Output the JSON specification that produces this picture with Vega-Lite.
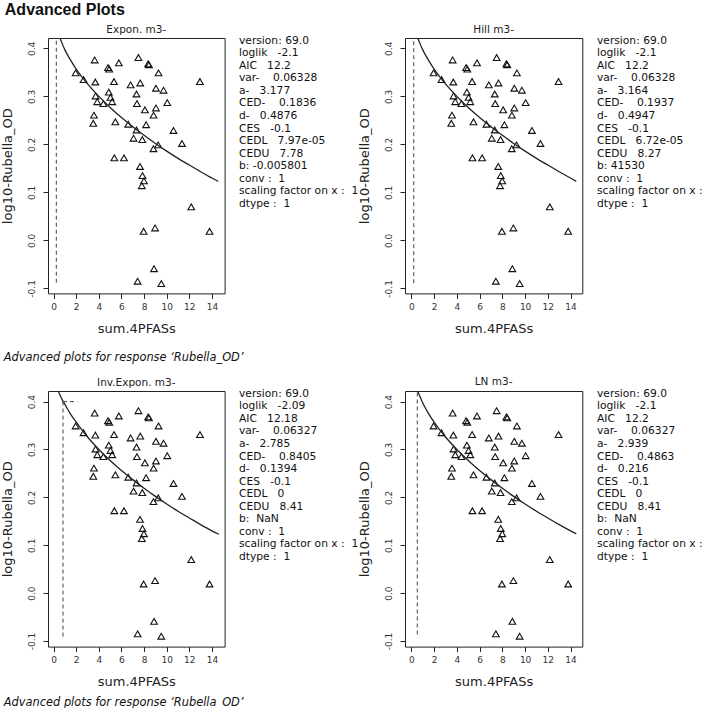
{
  "$schema": "https://vega.github.io/schema/vega-lite/v6.json",
  "padding": {"left": 0, "top": 2, "right": 0, "bottom": 0},
  "background": "white",
  "title": {"text": "Advanced Plots", "anchor": "start", "frame": "bounds", "font": "Liberation Sans", "fontSize": 16, "fontWeight": "bold", "color": "#111", "dx": 4, "offset": 6},
  "datasets": {
    "pts": [
      {"x":1.95,"y":0.349},{"x":2.65,"y":0.335},{"x":3.63,"y":0.376},{"x":3.69,"y":0.330},{"x":3.71,"y":0.301},
      {"x":3.86,"y":0.289},{"x":3.57,"y":0.261},{"x":3.51,"y":0.244},{"x":4.40,"y":0.285},{"x":4.81,"y":0.360},
      {"x":4.92,"y":0.357},{"x":4.88,"y":0.309},{"x":5.03,"y":0.298},{"x":5.18,"y":0.289},{"x":5.34,"y":0.331},
      {"x":5.77,"y":0.370},{"x":5.46,"y":0.247},{"x":5.37,"y":0.172},{"x":6.22,"y":0.172},{"x":6.60,"y":0.242},
      {"x":6.81,"y":0.324},{"x":7.50,"y":0.381},{"x":7.66,"y":0.328},{"x":7.33,"y":0.305},{"x":7.37,"y":0.285},
      {"x":7.33,"y":0.230},{"x":7.07,"y":0.213},{"x":7.84,"y":0.210},{"x":8.07,"y":0.272},{"x":8.18,"y":0.241},
      {"x":8.36,"y":0.368},{"x":8.43,"y":0.366},{"x":9.28,"y":0.349},{"x":9.05,"y":0.317},{"x":9.72,"y":0.313},
      {"x":9.05,"y":0.276},{"x":8.84,"y":0.261},{"x":10.05,"y":0.287},{"x":9.25,"y":0.199},{"x":8.83,"y":0.191},
      {"x":10.60,"y":0.229},{"x":11.35,"y":0.202},{"x":12.94,"y":0.331},{"x":7.64,"y":0.154},{"x":7.86,"y":0.135},
      {"x":7.99,"y":0.124},{"x":7.80,"y":0.114},{"x":12.17,"y":0.070},{"x":7.96,"y":0.019},{"x":8.97,"y":0.026},
      {"x":13.79,"y":0.019},{"x":8.88,"y":-0.059},{"x":7.43,"y":-0.085},{"x":9.52,"y":-0.090}
    ],
    "curves": [
      {"p":"A","x":0.3,"y":0.4415},{"p":"A","x":0.5,"y":0.426},{"p":"A","x":0.75,"y":0.4105},{"p":"A","x":1,"y":0.397},{"p":"A","x":1.5,"y":0.3755},{"p":"A","x":2,"y":0.357},{"p":"A","x":2.5,"y":0.3407},{"p":"A","x":3,"y":0.326},{"p":"A","x":4,"y":0.300},{"p":"A","x":5,"y":0.277},{"p":"A","x":6,"y":0.256},{"p":"A","x":7,"y":0.237},{"p":"A","x":8,"y":0.219},{"p":"A","x":9,"y":0.202},{"p":"A","x":10,"y":0.186},{"p":"A","x":11,"y":0.171},{"p":"A","x":12,"y":0.157},{"p":"A","x":13,"y":0.143},{"p":"A","x":14,"y":0.130},{"p":"A","x":14.55,"y":0.123},
      {"p":"B","x":0.3,"y":0.4415},{"p":"B","x":0.5,"y":0.426},{"p":"B","x":0.75,"y":0.4105},{"p":"B","x":1,"y":0.397},{"p":"B","x":1.5,"y":0.3755},{"p":"B","x":2,"y":0.357},{"p":"B","x":2.5,"y":0.3407},{"p":"B","x":3,"y":0.326},{"p":"B","x":4,"y":0.300},{"p":"B","x":5,"y":0.277},{"p":"B","x":6,"y":0.256},{"p":"B","x":7,"y":0.237},{"p":"B","x":8,"y":0.219},{"p":"B","x":9,"y":0.202},{"p":"B","x":10,"y":0.186},{"p":"B","x":11,"y":0.171},{"p":"B","x":12,"y":0.157},{"p":"B","x":13,"y":0.143},{"p":"B","x":14,"y":0.130},{"p":"B","x":14.5,"y":0.123},
      {"p":"C","x":0.3,"y":0.45},{"p":"C","x":0.44,"y":0.422},{"p":"C","x":0.6,"y":0.412},{"p":"C","x":0.8,"y":0.402},{"p":"C","x":1,"y":0.394},{"p":"C","x":1.5,"y":0.374},{"p":"C","x":2,"y":0.357},{"p":"C","x":2.5,"y":0.3407},{"p":"C","x":3,"y":0.326},{"p":"C","x":4,"y":0.300},{"p":"C","x":5,"y":0.277},{"p":"C","x":6,"y":0.256},{"p":"C","x":7,"y":0.237},{"p":"C","x":8,"y":0.219},{"p":"C","x":9,"y":0.202},{"p":"C","x":10,"y":0.186},{"p":"C","x":11,"y":0.171},{"p":"C","x":12,"y":0.157},{"p":"C","x":13,"y":0.143},{"p":"C","x":14,"y":0.130},{"p":"C","x":14.6,"y":0.123},
      {"p":"D","x":0.3,"y":0.4415},{"p":"D","x":0.5,"y":0.426},{"p":"D","x":0.75,"y":0.4105},{"p":"D","x":1,"y":0.397},{"p":"D","x":1.5,"y":0.3755},{"p":"D","x":2,"y":0.357},{"p":"D","x":2.5,"y":0.3407},{"p":"D","x":3,"y":0.326},{"p":"D","x":4,"y":0.300},{"p":"D","x":5,"y":0.277},{"p":"D","x":6,"y":0.256},{"p":"D","x":7,"y":0.237},{"p":"D","x":8,"y":0.219},{"p":"D","x":9,"y":0.202},{"p":"D","x":10,"y":0.186},{"p":"D","x":11,"y":0.171},{"p":"D","x":12,"y":0.157},{"p":"D","x":13,"y":0.143},{"p":"D","x":14,"y":0.130},{"p":"D","x":14.5,"y":0.124}
    ],
    "ced": [
      {"p":"A","seg":1,"k":1,"x":0.24,"y":0.416},{"p":"A","seg":1,"k":2,"x":0.24,"y":-0.092},
      {"p":"B","seg":1,"k":1,"x":0.21,"y":0.415},{"p":"B","seg":1,"k":2,"x":0.21,"y":-0.092},
      {"p":"C","seg":1,"k":1,"x":0.83,"y":0.400},{"p":"C","seg":1,"k":2,"x":0.83,"y":-0.093},
      {"p":"C","seg":2,"k":1,"x":0.83,"y":0.400},{"p":"C","seg":2,"k":2,"x":2.1,"y":0.400},
      {"p":"D","seg":1,"k":1,"x":0.52,"y":0.419},{"p":"D","seg":1,"k":2,"x":0.52,"y":-0.093}
    ],
    "stats": [
      {"p":"A","line":0,"text":"version: 69.0"},{"p":"A","line":1,"text":"loglik\u00a0\u00a0\u00a0-2.1"},{"p":"A","line":2,"text":"AIC\u00a0\u00a0\u00a012.2"},{"p":"A","line":3,"text":"var-\u00a0\u00a0\u00a0\u00a00.06328"},{"p":"A","line":4,"text":"a-\u00a0\u00a0\u00a03.177"},{"p":"A","line":5,"text":"CED-\u00a0\u00a0\u00a0\u00a00.1836"},{"p":"A","line":6,"text":"d-\u00a0\u00a0\u00a00.4876"},{"p":"A","line":7,"text":"CES\u00a0\u00a0\u00a0-0.1"},{"p":"A","line":8,"text":"CEDL\u00a0\u00a0\u00a07.97e-05"},{"p":"A","line":9,"text":"CEDU\u00a0\u00a0\u00a07.78"},{"p":"A","line":10,"text":"b:\u00a0-0.005801"},{"p":"A","line":11,"text":"conv :\u00a0\u00a01"},{"p":"A","line":12,"text":"scaling factor on x :\u00a0\u00a01"},{"p":"A","line":13,"text":"dtype :\u00a0\u00a01"},
      {"p":"B","line":0,"text":"version: 69.0"},{"p":"B","line":1,"text":"loglik\u00a0\u00a0\u00a0-2.1"},{"p":"B","line":2,"text":"AIC\u00a0\u00a0\u00a012.2"},{"p":"B","line":3,"text":"var-\u00a0\u00a0\u00a0\u00a00.06328"},{"p":"B","line":4,"text":"a-\u00a0\u00a0\u00a03.164"},{"p":"B","line":5,"text":"CED-\u00a0\u00a0\u00a0\u00a00.1937"},{"p":"B","line":6,"text":"d-\u00a0\u00a0\u00a00.4947"},{"p":"B","line":7,"text":"CES\u00a0\u00a0\u00a0-0.1"},{"p":"B","line":8,"text":"CEDL\u00a0\u00a0\u00a06.72e-05"},{"p":"B","line":9,"text":"CEDU\u00a0\u00a0\u00a08.27"},{"p":"B","line":10,"text":"b:\u00a041530"},{"p":"B","line":11,"text":"conv :\u00a0\u00a01"},{"p":"B","line":12,"text":"scaling factor on x :\u00a0\u00a01"},{"p":"B","line":13,"text":"dtype :\u00a0\u00a01"},
      {"p":"C","line":0,"text":"version: 69.0"},{"p":"C","line":1,"text":"loglik\u00a0\u00a0\u00a0-2.09"},{"p":"C","line":2,"text":"AIC\u00a0\u00a0\u00a012.18"},{"p":"C","line":3,"text":"var-\u00a0\u00a0\u00a0\u00a00.06327"},{"p":"C","line":4,"text":"a-\u00a0\u00a0\u00a02.785"},{"p":"C","line":5,"text":"CED-\u00a0\u00a0\u00a0\u00a00.8405"},{"p":"C","line":6,"text":"d-\u00a0\u00a0\u00a00.1394"},{"p":"C","line":7,"text":"CES\u00a0\u00a0\u00a0-0.1"},{"p":"C","line":8,"text":"CEDL\u00a0\u00a0\u00a00"},{"p":"C","line":9,"text":"CEDU\u00a0\u00a0\u00a08.41"},{"p":"C","line":10,"text":"b:\u00a0\u00a0NaN"},{"p":"C","line":11,"text":"conv :\u00a0\u00a01"},{"p":"C","line":12,"text":"scaling factor on x :\u00a0\u00a01"},{"p":"C","line":13,"text":"dtype :\u00a0\u00a01"},
      {"p":"D","line":0,"text":"version: 69.0"},{"p":"D","line":1,"text":"loglik\u00a0\u00a0\u00a0-2.1"},{"p":"D","line":2,"text":"AIC\u00a0\u00a0\u00a012.2"},{"p":"D","line":3,"text":"var-\u00a0\u00a0\u00a0\u00a00.06327"},{"p":"D","line":4,"text":"a-\u00a0\u00a0\u00a02.939"},{"p":"D","line":5,"text":"CED-\u00a0\u00a0\u00a0\u00a00.4863"},{"p":"D","line":6,"text":"d-\u00a0\u00a0\u00a00.216"},{"p":"D","line":7,"text":"CES\u00a0\u00a0\u00a0-0.1"},{"p":"D","line":8,"text":"CEDL\u00a0\u00a0\u00a00"},{"p":"D","line":9,"text":"CEDU\u00a0\u00a0\u00a08.41"},{"p":"D","line":10,"text":"b:\u00a0\u00a0NaN"},{"p":"D","line":11,"text":"conv :\u00a0\u00a01"},{"p":"D","line":12,"text":"scaling factor on x :\u00a0\u00a01"},{"p":"D","line":13,"text":"dtype :\u00a0\u00a01"}
    ]
  },
  "vconcat": [
    {
      "title": {"text": "Advanced plots for response ‘Rubella_OD’", "orient": "bottom", "anchor": "start", "frame": "bounds", "font": "DejaVu Sans", "fontSize": 11.4, "fontStyle": "italic", "fontWeight": "normal", "color": "#111", "offset": 16, "dx": 3},
      "bounds": "flush",
      "spacing": 14,
      "hconcat": [
        {
          "width": 176.6, "height": 255.4,
          "view": {"stroke": "#222", "strokeWidth": 1},
          "title": {"text": "Expon. m3-", "font": "DejaVu Sans", "fontSize": 10.5, "fontWeight": "normal", "color": "#222", "offset": 3, "anchor": "middle"},
          "layer": [
            {"data": {"name": "pts"}, "mark": {"type": "point", "shape": "triangle-up", "filled": false, "size": 45, "stroke": "#111", "strokeWidth": 1.1, "opacity": 1},
             "encoding": {
               "x": {"field": "x", "type": "quantitative", "title": "sum.4PFASs", "scale": {"domain": [-0.495, 15.12], "nice": false, "zero": false}, "axis": {"values": [0,2,4,6,8,10,12,14], "tickCount": 20, "labelOverlap": false}},
               "y": {"field": "y", "type": "quantitative", "title": "log10-Rubella_OD", "scale": {"domain": [-0.1104, 0.4217], "nice": false, "zero": false}, "axis": {"values": [-0.1,0,0.1,0.2,0.3,0.4], "tickCount": 20, "labelOverlap": false, "labelExpr": "datum.value < 0 ? '-' + format(-datum.value, '.1f') : format(datum.value, '.1f')"}}}},
            {"data": {"name": "curves"}, "transform": [{"filter": "datum.p === 'A'"}], "mark": {"type": "line", "clip": true, "color": "#222", "strokeWidth": 1.3, "interpolate": "monotone"},
             "encoding": {"x": {"field": "x", "type": "quantitative", "title": "sum.4PFASs"}, "y": {"field": "y", "type": "quantitative", "title": "log10-Rubella_OD"}}},
            {"data": {"name": "ced"}, "transform": [{"filter": "datum.p === 'A'"}], "mark": {"type": "line", "strokeDash": [4, 3], "color": "#444", "strokeWidth": 1},
             "encoding": {"x": {"field": "x", "type": "quantitative", "title": "sum.4PFASs"}, "y": {"field": "y", "type": "quantitative", "title": "log10-Rubella_OD"}, "detail": {"field": "seg"}, "order": {"field": "k"}}}
          ]
        },
        {
          "width": 151.4, "height": 255.4,
          "data": {"name": "stats"}, "transform": [{"filter": "datum.p === 'A'"}],
          "mark": {"type": "text", "align": "left", "baseline": "middle", "font": "DejaVu Sans", "fontSize": 10.7, "color": "#111"},
          "encoding": {"x": {"value": 0}, "y": {"field": "line", "type": "quantitative", "scale": {"domain": [-0.215, 20.13], "reverse": true, "nice": false, "zero": false}, "axis": null}, "text": {"field": "text"}}
        },
        {
          "width": 177.3, "height": 255.4,
          "view": {"stroke": "#222", "strokeWidth": 1},
          "title": {"text": "Hill m3-", "font": "DejaVu Sans", "fontSize": 10.5, "fontWeight": "normal", "color": "#222", "offset": 3, "anchor": "middle"},
          "layer": [
            {"data": {"name": "pts"}, "mark": {"type": "point", "shape": "triangle-up", "filled": false, "size": 45, "stroke": "#111", "strokeWidth": 1.1, "opacity": 1},
             "encoding": {
               "x": {"field": "x", "type": "quantitative", "title": "sum.4PFASs", "scale": {"domain": [-0.56, 15.03], "nice": false, "zero": false}, "axis": {"values": [0,2,4,6,8,10,12,14], "tickCount": 20, "labelOverlap": false}},
               "y": {"field": "y", "type": "quantitative", "title": "log10-Rubella_OD", "scale": {"domain": [-0.1104, 0.4217], "nice": false, "zero": false}, "axis": {"values": [-0.1,0,0.1,0.2,0.3,0.4], "tickCount": 20, "labelOverlap": false, "labelExpr": "datum.value < 0 ? '-' + format(-datum.value, '.1f') : format(datum.value, '.1f')"}}}},
            {"data": {"name": "curves"}, "transform": [{"filter": "datum.p === 'B'"}], "mark": {"type": "line", "clip": true, "color": "#222", "strokeWidth": 1.3, "interpolate": "monotone"},
             "encoding": {"x": {"field": "x", "type": "quantitative", "title": "sum.4PFASs"}, "y": {"field": "y", "type": "quantitative", "title": "log10-Rubella_OD"}}},
            {"data": {"name": "ced"}, "transform": [{"filter": "datum.p === 'B'"}], "mark": {"type": "line", "strokeDash": [4, 3], "color": "#444", "strokeWidth": 1},
             "encoding": {"x": {"field": "x", "type": "quantitative", "title": "sum.4PFASs"}, "y": {"field": "y", "type": "quantitative", "title": "log10-Rubella_OD"}, "detail": {"field": "seg"}, "order": {"field": "k"}}}
          ]
        },
        {
          "width": 115, "height": 255.4,
          "data": {"name": "stats"}, "transform": [{"filter": "datum.p === 'B'"}],
          "mark": {"type": "text", "align": "left", "baseline": "middle", "font": "DejaVu Sans", "fontSize": 10.7, "color": "#111"},
          "encoding": {"x": {"value": 0}, "y": {"field": "line", "type": "quantitative", "scale": {"domain": [-0.215, 20.13], "reverse": true, "nice": false, "zero": false}, "axis": null}, "text": {"field": "text"}}
        }
      ]
    },
    {
      "title": {"text": "Advanced plots for response ‘Rubella_OD’", "orient": "bottom", "anchor": "start", "frame": "bounds", "font": "DejaVu Sans", "fontSize": 11.4, "fontStyle": "italic", "fontWeight": "normal", "color": "#111", "offset": 8, "dx": 3},
      "bounds": "flush",
      "spacing": 14,
      "hconcat": [
        {
          "width": 176.6, "height": 255.6,
          "view": {"stroke": "#222", "strokeWidth": 1},
          "title": {"text": "Inv.Expon. m3-", "font": "DejaVu Sans", "fontSize": 10.5, "fontWeight": "normal", "color": "#222", "offset": 3, "anchor": "middle"},
          "layer": [
            {"data": {"name": "pts"}, "mark": {"type": "point", "shape": "triangle-up", "filled": false, "size": 45, "stroke": "#111", "strokeWidth": 1.1, "opacity": 1},
             "encoding": {
               "x": {"field": "x", "type": "quantitative", "title": "sum.4PFASs", "scale": {"domain": [-0.495, 15.12], "nice": false, "zero": false}, "axis": {"values": [0,2,4,6,8,10,12,14], "tickCount": 20, "labelOverlap": false}},
               "y": {"field": "y", "type": "quantitative", "title": "log10-Rubella_OD", "scale": {"domain": [-0.1117, 0.4221], "nice": false, "zero": false}, "axis": {"values": [-0.1,0,0.1,0.2,0.3,0.4], "tickCount": 20, "labelOverlap": false, "labelExpr": "datum.value < 0 ? '-' + format(-datum.value, '.1f') : format(datum.value, '.1f')"}}}},
            {"data": {"name": "curves"}, "transform": [{"filter": "datum.p === 'C'"}], "mark": {"type": "line", "clip": true, "color": "#222", "strokeWidth": 1.3, "interpolate": "monotone"},
             "encoding": {"x": {"field": "x", "type": "quantitative", "title": "sum.4PFASs"}, "y": {"field": "y", "type": "quantitative", "title": "log10-Rubella_OD"}}},
            {"data": {"name": "ced"}, "transform": [{"filter": "datum.p === 'C'"}], "mark": {"type": "line", "strokeDash": [4, 3], "color": "#444", "strokeWidth": 1},
             "encoding": {"x": {"field": "x", "type": "quantitative", "title": "sum.4PFASs"}, "y": {"field": "y", "type": "quantitative", "title": "log10-Rubella_OD"}, "detail": {"field": "seg"}, "order": {"field": "k"}}}
          ]
        },
        {
          "width": 151.4, "height": 255.6,
          "data": {"name": "stats"}, "transform": [{"filter": "datum.p === 'C'"}],
          "mark": {"type": "text", "align": "left", "baseline": "middle", "font": "DejaVu Sans", "fontSize": 10.7, "color": "#111"},
          "encoding": {"x": {"value": 0}, "y": {"field": "line", "type": "quantitative", "scale": {"domain": [-0.215, 20.13], "reverse": true, "nice": false, "zero": false}, "axis": null}, "text": {"field": "text"}}
        },
        {
          "width": 177.3, "height": 255.6,
          "view": {"stroke": "#222", "strokeWidth": 1},
          "title": {"text": "LN m3-", "font": "DejaVu Sans", "fontSize": 10.5, "fontWeight": "normal", "color": "#222", "offset": 3, "anchor": "middle"},
          "layer": [
            {"data": {"name": "pts"}, "mark": {"type": "point", "shape": "triangle-up", "filled": false, "size": 45, "stroke": "#111", "strokeWidth": 1.1, "opacity": 1},
             "encoding": {
               "x": {"field": "x", "type": "quantitative", "title": "sum.4PFASs", "scale": {"domain": [-0.56, 15.03], "nice": false, "zero": false}, "axis": {"values": [0,2,4,6,8,10,12,14], "tickCount": 20, "labelOverlap": false}},
               "y": {"field": "y", "type": "quantitative", "title": "log10-Rubella_OD", "scale": {"domain": [-0.1117, 0.4221], "nice": false, "zero": false}, "axis": {"values": [-0.1,0,0.1,0.2,0.3,0.4], "tickCount": 20, "labelOverlap": false, "labelExpr": "datum.value < 0 ? '-' + format(-datum.value, '.1f') : format(datum.value, '.1f')"}}}},
            {"data": {"name": "curves"}, "transform": [{"filter": "datum.p === 'D'"}], "mark": {"type": "line", "clip": true, "color": "#222", "strokeWidth": 1.3, "interpolate": "monotone"},
             "encoding": {"x": {"field": "x", "type": "quantitative", "title": "sum.4PFASs"}, "y": {"field": "y", "type": "quantitative", "title": "log10-Rubella_OD"}}},
            {"data": {"name": "ced"}, "transform": [{"filter": "datum.p === 'D'"}], "mark": {"type": "line", "strokeDash": [4, 3], "color": "#444", "strokeWidth": 1},
             "encoding": {"x": {"field": "x", "type": "quantitative", "title": "sum.4PFASs"}, "y": {"field": "y", "type": "quantitative", "title": "log10-Rubella_OD"}, "detail": {"field": "seg"}, "order": {"field": "k"}}}
          ]
        },
        {
          "width": 115, "height": 255.6,
          "data": {"name": "stats"}, "transform": [{"filter": "datum.p === 'D'"}],
          "mark": {"type": "text", "align": "left", "baseline": "middle", "font": "DejaVu Sans", "fontSize": 10.7, "color": "#111"},
          "encoding": {"x": {"value": 0}, "y": {"field": "line", "type": "quantitative", "scale": {"domain": [-0.215, 20.13], "reverse": true, "nice": false, "zero": false}, "axis": null}, "text": {"field": "text"}}
        }
      ]
    }
  ],
  "spacing": 12,
  "config": {
    "view": {"stroke": null},
    "axis": {"domain": false, "grid": false, "ticks": true, "tickColor": "#222", "tickSize": 5, "tickWidth": 1, "labelFont": "DejaVu Sans", "labelFontSize": 9, "labelColor": "#333", "labelOverlap": false, "titleFont": "DejaVu Sans", "titleFontSize": 13, "titleFontWeight": "normal", "titleColor": "#222"},
    "axisX": {"labelPadding": 4, "titlePadding": 11, "labelFlush": false},
    "axisY": {"labelAngle": -90, "labelAlign": "center", "labelBaseline": "bottom", "labelPadding": 7, "titlePadding": 12.7, "labelFlush": false}
  }
}
